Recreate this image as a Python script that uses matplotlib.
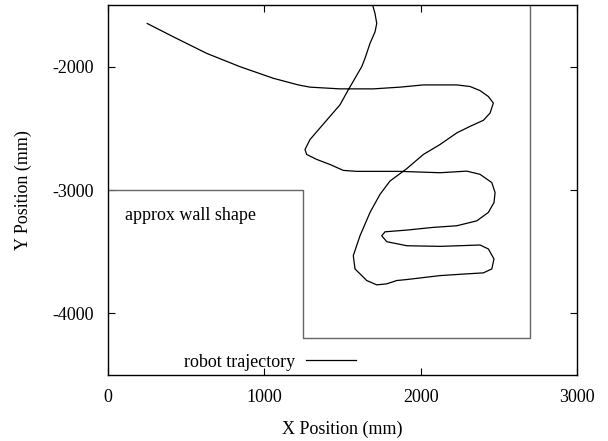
import matplotlib
matplotlib.use("Agg")
import matplotlib.pyplot as plt

# robot trajectory (mm)
traj_x = [251, 418, 631, 844, 1057, 1217, 1292, 1484, 1697, 1868, 2017, 2231, 2316,
          2380, 2433, 2465, 2444, 2401, 2316, 2231, 2124, 2017, 1911, 1804, 1740,
          1676, 1612, 1569, 1580, 1655, 1719, 1783, 1847, 1911, 2124, 2295, 2401,
          2455, 2469, 2433, 2380, 2124, 1911, 1783, 1751, 1772, 1911, 2081, 2231,
          2359, 2433, 2469, 2476, 2455, 2380, 2295, 2124, 1868, 1591, 1505, 1420,
          1335, 1271, 1260, 1292, 1356, 1420, 1484, 1537, 1580, 1623, 1644, 1676,
          1708, 1719, 1708, 1693, 1689]
traj_y = [-1650, -1758, -1892, -2000, -2094, -2148, -2166, -2180, -2180, -2166, -2148,
          -2148, -2161, -2194, -2242, -2295, -2376, -2435, -2484, -2537, -2631, -2712,
          -2827, -2927, -3035, -3182, -3371, -3532, -3640, -3734, -3769, -3761, -3734,
          -3726, -3694, -3680, -3672, -3640, -3559, -3478, -3446, -3457, -3452, -3419,
          -3371, -3339, -3325, -3303, -3290, -3250, -3182, -3102, -3021, -2940, -2873,
          -2847, -2860, -2849, -2849, -2841, -2793, -2752, -2712, -2672, -2591, -2497,
          -2403, -2309, -2188, -2094, -2000, -1932, -1811, -1718, -1650, -1569, -1502,
          -1440]

# approximate wall outline
wall_x = [0, 1250, 1250, 2700, 2700]
wall_y = [-3000, -3000, -4200, -4200, -1400]

xticks = [0, 1000, 2000, 3000]
yticks = [-4000, -3000, -2000]

plt.rcParams['font.family'] = ['Liberation Serif', 'DejaVu Serif']
plt.rcParams['font.size'] = 13
plt.rcParams['axes.unicode_minus'] = False

fig = plt.figure(figsize=(6.08, 4.41), dpi=100)
ax = fig.add_axes([108/608, 66/441, 469/608, 370/441])

ax.plot(wall_x, wall_y, color='#666666', lw=1.0)
line, = ax.plot(traj_x, traj_y, color='black', lw=0.9, label='robot trajectory')
ax.text(110, -3210, 'approx wall shape', va='center', ha='left')

ax.set_xlim(0, 3000)
ax.set_ylim(-4500, -1500)
ax.set_xticks(xticks)
ax.set_yticks(yticks)
ax.tick_params(direction='in', length=5, width=0.8, top=True, right=True, pad=10)
for s in ax.spines.values():
    s.set_linewidth(1.0)

ax.set_xlabel('X Position (mm)', labelpad=11)
ax.set_ylabel('Y Position (mm)', labelpad=15)

ax.legend(handles=[line], loc='center', bbox_to_anchor=(0.345, 0.035),
          frameon=False, markerfirst=False, handlelength=2.8, handletextpad=0.6)

fig.savefig('out.png', dpi=100)
